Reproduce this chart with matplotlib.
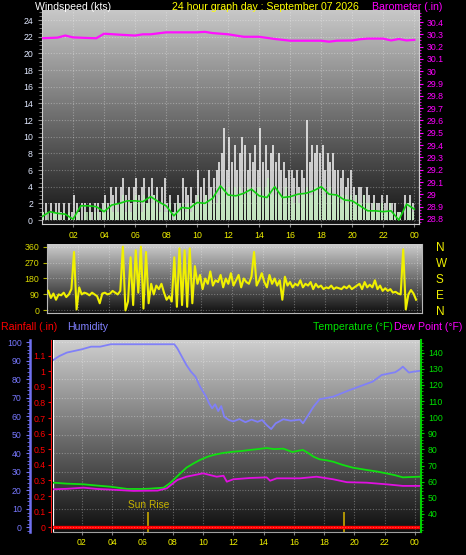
import numpy as np
import matplotlib
matplotlib.use('Agg')
import matplotlib.pyplot as plt
from matplotlib.colors import LinearSegmentedColormap
from matplotlib.ticker import MultipleLocator, FixedLocator

plt.rcParams['font.family'] = ['Liberation Sans', 'DejaVu Sans']

# ---------------- data ----------------
hour_ticks = [2, 4, 6, 8, 10, 12, 14, 16, 18, 20, 22, 24]
hour_labels = ['02', '04', '06', '08', '10', '12', '14', '16', '18', '20', '22', '00']

# 10-minute samples (144 per day)
gust = [1, 2, 0, 2, 1, 2,   2, 1, 2, 0, 2, 1,   3, 2, 1, 2, 2, 0,   2, 1, 2, 2, 1, 2,
        3, 2, 4, 3, 4, 2,   4, 5, 3, 4, 2, 4,   5, 3, 4, 5, 2, 4,   5, 3, 4, 2, 4, 5,
        2, 3, 1, 2, 3, 2,   5, 4, 3, 4, 2, 3,   6, 4, 5, 3, 6, 4,   5, 6, 7, 8, 11, 6,
        10, 7, 9, 6, 8, 10, 9, 6, 8, 7, 9, 6,   11, 7, 9, 6, 8, 9,  7, 8, 6, 7, 5, 6,
        6, 5, 6, 4, 6, 5,   12, 7, 9, 8, 9, 8,  9, 6, 8, 7, 8, 6,   6, 5, 6, 4, 5, 6,
        4, 3, 4, 4, 3, 4,   3, 2, 3, 2, 2, 3,   2, 3, 2, 2, 2, 1,   1, 0, 3, 2, 3, 2]
speed = [1, 0, 1, 0, 1, 1,  1, 0, 1, 0, 1, 0,  0, 1, 1, 0, 1, 1,  1, 0, 1, 1, 0, 1,
         2, 1, 2, 1, 2, 1,  2, 3, 1, 2, 1, 2,  3, 2, 1, 3, 2, 2,  2, 3, 2, 1, 2, 1,
         1, 2, 0, 1, 2, 1,  2, 1, 2, 1, 2, 2,  3, 2, 2, 3, 2, 3,  3, 2, 3, 4, 4, 3,
         4, 3, 4, 3, 4, 3,  3, 4, 3, 4, 3, 4,  4, 3, 4, 5, 3, 4,  3, 4, 3, 3, 4, 3,
         3, 2, 3, 2, 3, 3,  4, 3, 3, 4, 4, 3,  4, 3, 3, 4, 3, 3,  3, 2, 3, 3, 2, 3,
         2, 3, 2, 2, 3, 2,  2, 1, 2, 1, 1, 2,  1, 1, 2, 1, 1, 1,  1, 0, 0, 2, 2, 1]
direction = [110, 70, 95, 60, 90, 85,     100, 75, 90, 120, 330, 5,
             130, 90, 100, 95, 85, 100,   90, 80, 40, 95, 100, 90,
             95, 110, 100, 90, 110, 360,  0, 50, 300, 30, 340, 100,
             360, 10, 330, 40, 150, 90,   140, 120, 150, 100, 60, 80,
             50, 300, 20, 350, 30, 340,   20, 350, 40, 250, 150, 200,
             120, 180, 150, 220, 140, 170, 160, 200, 130, 180, 150, 210,
             140, 170, 200, 130, 180, 160, 150, 190, 330, 140, 170, 210,
             160, 130, 200, 150, 180, 140, 170, 60, 190, 140, 160, 130,
             150, 140, 170, 130, 150, 140, 160, 120, 150, 130, 140, 120,
             130, 125, 140, 120, 130, 125, 120, 135, 125, 140, 120, 130,
             140, 150, 120, 160, 130, 145, 130, 170, 120, 140, 110, 125,
             110, 120, 100, 105, 95, 90,   345, 5, 90, 115, 95, 60]
sample_hours = np.arange(len(gust)) / 6.0 + 1 / 12.0

avg_hours = [0.0, 0.5, 1.0, 1.5, 2.0, 2.5, 3.0, 3.5, 4.0, 4.5, 5.0, 5.5, 6.0, 6.5, 7.0, 7.5,
             8.0, 8.5, 9.0, 9.5, 10.0, 10.5, 11.0, 11.5, 12.0, 12.5, 13.0, 13.5, 14.0, 14.5,
             15.0, 15.5, 16.0, 16.5, 17.0, 17.5, 18.0, 18.5, 19.0, 19.5, 20.0, 20.5, 21.0,
             21.5, 22.0, 22.5, 23.0, 23.5, 24.0]
avg_wind = [0.4, 1.0, 0.8, 0.7, 0.1, 1.7, 1.7, 1.6, 1.0, 1.8, 2.0, 2.3, 2.3, 2.2, 2.8, 2.2,
            1.7, 0.5, 1.5, 1.4, 2.1, 2.0, 2.6, 4.1, 3.0, 2.9, 3.2, 3.7, 2.9, 2.7,
            4.0, 2.7, 2.8, 3.1, 3.2, 3.5, 4.0, 3.1, 3.0, 2.4, 2.3, 1.7, 1.1,
            1.1, 1.0, 1.1, 0.0, 1.9, 1.3]

baro_hours = [0.0, 1.0, 1.5, 2.0, 3.0, 3.5, 4.0, 5.0, 6.0, 6.5, 7.0, 8.0, 9.0, 10.0, 10.5,
              11.0, 12.0, 13.0, 14.0, 15.0, 16.0, 17.0, 18.0, 18.5, 19.0, 20.0, 20.5, 21.0,
              22.0, 22.5, 23.0, 23.5, 24.0]
baro = [30.268, 30.273, 30.29, 30.275, 30.27, 30.268, 30.305, 30.297, 30.29, 30.30, 30.30,
        30.316, 30.316, 30.316, 30.32, 30.31, 30.30, 30.28, 30.28, 30.262, 30.248, 30.248,
        30.248, 30.24, 30.248, 30.25, 30.26, 30.265, 30.265, 30.25, 30.262, 30.25, 30.255]

hum_hours = [0.1, 0.5, 1.0, 1.5, 2.0, 2.6, 3.2, 3.9, 5.0, 6.0, 7.0, 8.1, 8.3, 8.6, 8.9, 9.2,
             9.5, 9.8, 10.2, 10.4, 10.6, 10.8, 11.0, 11.2, 11.4, 11.7, 12.0, 12.4, 12.8,
             13.2, 13.6, 13.9, 14.2, 14.5, 14.8, 15.3, 15.8, 16.4, 16.6, 16.9, 17.3, 17.7,
             18.6, 19.7, 20.3, 21.2, 21.8, 22.7, 23.0, 23.2, 23.6, 23.9, 24.3]
humidity = [90.4, 92.5, 94.4, 95.3, 96.2, 97.6, 97.6, 98.9, 98.9, 98.9, 98.9, 98.9, 96.7,
            92.2, 87.7, 84.1, 81.4, 76.0, 70.6, 67.0, 64.3, 66.5, 62.8, 65.5, 59.8, 58.0,
            57.2, 58.5, 56.8, 58.2, 57.0, 58.0, 55.3, 53.1, 56.2, 58.4, 57.6, 58.2, 56.2,
            60.0, 65.2, 69.2, 70.6, 74.2, 76.0, 78.7, 82.3, 83.8, 85.4, 86.8, 83.6, 84.1, 84.5]

temp_hours = [0.1, 1.0, 2.1, 3.0, 3.9, 5.0, 6.0, 6.5, 7.4, 7.8, 8.2, 8.5, 8.9, 9.4, 9.8,
              10.3, 10.7, 11.3, 12.0, 12.5, 13.1, 13.6, 14.2, 14.7, 15.3, 15.9, 16.3, 16.6,
              17.0, 17.3, 17.7, 18.2, 18.6, 19.2, 19.9, 20.8, 21.5, 22.1, 22.7, 23.2, 23.7, 24.3]
temperature = [59.4, 58.8, 58.4, 57.6, 56.9, 55.5, 55.5, 55.7, 56.3, 59.0, 62.5, 65.2, 68.7,
               71.5, 73.5, 75.5, 76.6, 77.8, 78.6, 79.0, 79.7, 80.2, 80.9, 80.2, 80.5, 78.4,
               79.2, 79.7, 77.5, 75.5, 73.9, 73.2, 72.4, 70.5, 68.7, 67.3, 66.3, 65.2, 64.0,
               62.7, 62.9, 63.1]

dew_hours = [0.1, 1.0, 2.1, 3.0, 3.9, 5.4, 7.0, 7.6, 8.3, 8.9, 10.0, 10.9, 11.35, 11.57, 12.0,
             13.1, 14.2, 14.43, 14.87, 16.4, 17.5, 18.6, 19.5, 20.8, 22.1, 23.2, 24.3]
dew_point = [55.3, 55.6, 56.3, 55.5, 55.1, 54.3, 54.5, 55.9, 61.1, 63.1, 65.2, 63.1, 63.7,
             60.0, 61.5, 62.3, 62.7, 60.6, 62.1, 62.1, 63.1, 61.5, 59.7, 59.4, 58.4, 57.4, 57.4]

rain_hours = [0.0, 24.4]
rainfall = [0.0, 0.0]

sun_events = [6.38, 19.33]

dir_ticks = [0, 90, 180, 270, 360]
dir_labels = ['N', 'E', 'S', 'W', 'N']

# ---------------- layout helpers ----------------
W, H = 466, 555
fig = plt.figure(figsize=(W / 100, H / 100), dpi=100, facecolor='black')


def px_axes(left, top, right, bottom):
    return fig.add_axes([left / W, 1 - bottom / H, (right - left) / W, (bottom - top) / H])


def gradient(ax, top_c, bot_c):
    grad = np.linspace(0, 1, 256).reshape(-1, 1)
    cmap = LinearSegmentedColormap.from_list('g', [bot_c, top_c])
    ax.imshow(grad, aspect='auto', cmap=cmap, extent=[0, 1, 0, 1], transform=ax.transAxes,
              origin='lower', zorder=0, interpolation='bilinear')


def ftext(x, y, s, **kw):
    fig.text(x / W, 1 - y / H, s, va='baseline', ha='left', fontsize=7.6, **kw)


GRID = dict(color='white', alpha=0.3, linestyle=(0, (1, 1.5)), linewidth=0.8)
XLAB = '#f0f000'

# ---------------- top panel : wind + barometer ----------------
ax1 = px_axes(42, 10, 419, 224)
gradient(ax1, '#c8c8c8', '#141414')
ax1.vlines(sample_hours, 0, gust, colors='#f8f8f8', linewidth=1.2, alpha=0.92, zorder=2)
ax1.vlines(sample_hours, 0, speed, colors='#c4f0c0', linewidth=1.2, alpha=0.9, zorder=3)
ax1.plot(avg_hours, avg_wind, color='#10d010', lw=1.2, zorder=4)
ax1.set_xlim(0, 24.3)
ax1.set_ylim(-0.48, 25.2)
ax1.set_yticks(range(0, 25, 2))
ax1.yaxis.set_minor_locator(MultipleLocator(0.5))
ax1.set_xticks(hour_ticks)
ax1.set_xticklabels(hour_labels)
ax1.tick_params(axis='y', which='major', colors='#909090', labelcolor='#e0e8ff', labelsize=6.3,
                length=3, pad=3.5)
ax1.tick_params(axis='y', which='minor', colors='#808080', length=2)
ax1.tick_params(axis='x', colors='#808080', labelcolor=XLAB, labelsize=6.3, length=2, pad=3)
ax1.grid(True, **GRID)
ax1.set_axisbelow(True)
ax1.spines['top'].set_visible(False)
for s in ['left', 'bottom', 'right']:
    ax1.spines[s].set_color('#d0d0d0')

ax1b = ax1.twinx()
ax1b.plot(baro_hours, baro, color='#ff10ff', lw=1.6, zorder=5)
ax1b.set_ylim(28.759, 30.4975)
baro_ticks = [round(28.8 + 0.1 * i, 1) for i in range(18)]
ax1b.yaxis.set_major_locator(FixedLocator(baro_ticks))
ax1b.set_yticklabels(['%g' % v for v in baro_ticks])
ax1b.yaxis.set_minor_locator(MultipleLocator(0.025))
ax1b.tick_params(axis='y', which='major', colors='#ff00ff', labelcolor='#ff00ff', labelsize=6.3,
                 length=3, pad=2.5)
ax1b.tick_params(axis='y', which='minor', colors='#ff00ff', length=1.5)
for s in ['top', 'left', 'bottom']:
    ax1b.spines[s].set_visible(False)
ax1b.spines['right'].set_color('#d0d0d0')

# ---------------- middle panel : wind direction ----------------
ax2 = px_axes(47, 244, 422, 313)
gradient(ax2, '#cdcdcd', '#101010')
ax2.plot(sample_hours, direction, color='#f0f000', lw=1.5, zorder=3)
ax2.set_xlim(0, 24.3)
ax2.set_ylim(-15, 375)
ax2.set_yticks(dir_ticks)
ax2.set_xticks(hour_ticks)
ax2.tick_params(axis='x', length=0, labelbottom=False)
ax2.tick_params(axis='y', colors='#b0b000', labelcolor='#d8d800', labelsize=6.3, length=3, pad=2.5)
ax2.grid(True, **GRID)
ax2.spines['top'].set_visible(False)
for s in ['left', 'bottom', 'right']:
    ax2.spines[s].set_color('#b8b8b8')

ax2r = ax2.twinx()
ax2r.set_ylim(-15, 375)
ax2r.set_yticks(dir_ticks)
ax2r.set_yticklabels(dir_labels)
ax2r.tick_params(axis='y', length=0, labelcolor='#f0f000', labelsize=8.5, pad=10)
for s in ax2r.spines.values():
    s.set_visible(False)

# ---------------- bottom panel : rain, humidity, temperature, dew point ----------------
ax3 = px_axes(53, 340, 421, 532)
gradient(ax3, '#d0d0d0', '#0e0e0e')
hum_lim = (-2.5, 101.2)
rain_per_hum = 0.01185
ax3.set_xlim(0.085, 24.4)
ax3.set_ylim(hum_lim[0] * rain_per_hum, hum_lim[1] * rain_per_hum)
ax3.plot(rain_hours, rainfall, color='#ff0000', lw=2.4, zorder=4, solid_capstyle='butt')
ax3.vlines(sun_events, ax3.get_ylim()[0], 0.1, colors='#c8a800', lw=1.2, zorder=3)
ax3.text(sun_events[0], 0.108, 'Sun Rise', ha='center', va='bottom', color='#c8b400',
         fontsize=7.3, zorder=5)
ax3.set_xticks(hour_ticks)
ax3.set_xticklabels(hour_labels)
ax3.set_yticks([round(0.1 * i, 1) for i in range(12)])
ax3.set_yticklabels(['%g' % round(0.1 * i, 1) for i in range(12)])
ax3.tick_params(axis='y', colors='#ff0000', labelcolor='#ff0000', labelsize=6.3, length=2.2,
                pad=1.5)
ax3.tick_params(axis='x', colors='#808080', labelcolor=XLAB, labelsize=6.3, length=2, pad=2.5)
ax3.grid(True, axis='x', **GRID)
ax3.spines['top'].set_visible(False)
ax3.spines['left'].set_color('#ff2020')
ax3.spines['left'].set_linestyle((0, (2, 1)))
ax3.spines['left'].set_position(('outward', 1.5))
ax3.spines['bottom'].set_color('#a0a0a0')
ax3.spines['right'].set_visible(False)
ax3.axvline(ax3.get_xlim()[0], color='white', lw=1.6, zorder=2)

axh = ax3.twinx()
axh.set_ylim(*hum_lim)
axh.plot(hum_hours, humidity, color='#8080f8', lw=1.3, zorder=3)
axh.yaxis.set_ticks_position('left')
axh.yaxis.set_label_position('left')
axh.spines['left'].set_position(('axes', -23 / 368))
axh.spines['left'].set_visible(True)
axh.spines['left'].set_color('#7070f0')
axh.spines['left'].set_linewidth(1.8)
for s in ['top', 'right', 'bottom']:
    axh.spines[s].set_visible(False)
axh.set_yticks(range(0, 101, 10))
axh.yaxis.set_minor_locator(MultipleLocator(2))
axh.tick_params(axis='y', which='major', colors='#7070f0', labelcolor='#7878ff', labelsize=6.3,
                length=3, pad=3)
axh.tick_params(axis='y', which='minor', colors='#7070f0', length=2)
axh.grid(True, axis='y', **GRID)

axt = ax3.twinx()
axt.set_ylim(28.8, 147.9)
axt.plot(temp_hours, temperature, color='#10e010', lw=1.3, zorder=4)
axt.plot(dew_hours, dew_point, color='#e010e0', lw=1.3, zorder=4)
axt.set_yticks(range(40, 141, 10))
axt.yaxis.set_minor_locator(MultipleLocator(2))
axt.tick_params(axis='y', which='major', colors='#00d000', labelcolor='#00e000', labelsize=6.3,
                length=2.5, pad=2.5)
axt.tick_params(axis='y', which='minor', colors='#00d000', length=1.5)
for s in ['top', 'left', 'bottom']:
    axt.spines[s].set_visible(False)
axt.spines['right'].set_color('#00d000')
axt.spines['right'].set_linewidth(1.5)

# ---------------- titles ----------------
ftext(35, 9.5, 'Windspeed (kts)', color='white')
ftext(172, 9.5, '24 hour graph day : September 07 2026', color='#ffff00')
ftext(372, 9.5, 'Barometer (.in)', color='#ff00ff')
ftext(1, 330, 'Rainfall (.in)', color='#ff0000')
ftext(67, 330, 'Humidity', color='#8080ff')
ftext(313, 330, 'Temperature (\u00b0F)', color='#00e000')
ftext(394, 330, 'Dew Point (\u00b0F)', color='#ff00ff')

fig.savefig('out.png', dpi=100, facecolor='black')
